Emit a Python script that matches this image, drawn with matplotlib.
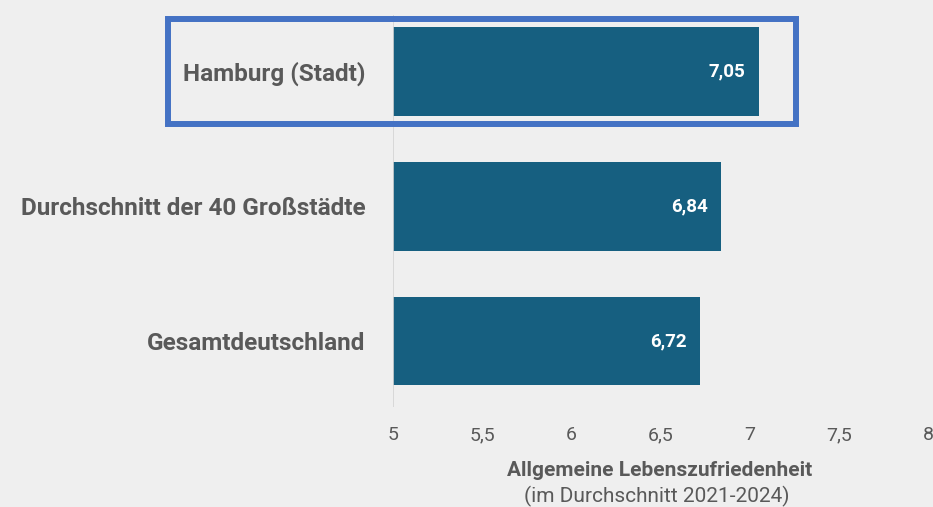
import matplotlib.pyplot as plt
from matplotlib.patches import Rectangle

categories = ["Hamburg (Stadt)", "Durchschnitt der 40 Großstädte", "Gesamtdeutschland"]
values = [7.05, 6.84, 6.72]
ticks = [5, 5.5, 6, 6.5, 7, 7.5, 8]
tick_labels = ["5", "5,5", "6", "6,5", "7", "7,5", "8"]

bg = "#efefef"
bar_color = "#165f80"
text_gray = "#595959"

plt.rcParams['font.family'] = ['Roboto', 'DejaVu Sans']

fig = plt.figure(figsize=(9.33, 5.07), dpi=100, facecolor=bg)
ax = fig.add_axes([393/933, 1-407/507, 535/933, 392/507], facecolor=bg)

y = list(range(len(categories)))
ax.barh(y, [v - 5 for v in values], left=5, height=0.66, color=bar_color, zorder=2)
for yi, v in zip(y, values):
    ax.text(v - 0.073, yi, f"{v:.2f}".replace(".", ","), ha="right", va="center",
            color="white", fontsize=13.5, fontweight="bold", zorder=3)

ax.set_xlim(5, 8)
ax.set_ylim(2.49, -0.42)
ax.set_xticks(ticks)
ax.set_xticklabels(tick_labels, fontsize=14, color=text_gray)
ax.set_yticks(y)
ax.set_yticklabels(categories, fontsize=17.5, fontweight="bold", color=text_gray)
ax.tick_params(axis="both", length=0)
ax.tick_params(axis="x", pad=14)
ax.tick_params(axis="y", pad=20)
for s in ax.spines.values():
    s.set_visible(False)
ax.axvline(5, color="#d4d4d4", lw=1.2, zorder=4)

fig.text(660/933, 1-471/507, "Allgemeine Lebenszufriedenheit", ha="center", va="center",
         fontsize=15, fontweight="bold", color=text_gray)
fig.text(657/933, 1-496/507, "(im Durchschnitt 2021-2024)", ha="center", va="center",
         fontsize=15, color=text_gray)

# highlight box around Hamburg
rect = Rectangle((168/933, 1-124/507), (796-168)/933, (124-19)/507, transform=fig.transFigure,
                 fill=False, edgecolor="#4472c4", lw=4.3, zorder=3)
fig.patches.append(rect)

fig.savefig("out.png", dpi=100, facecolor=bg)
